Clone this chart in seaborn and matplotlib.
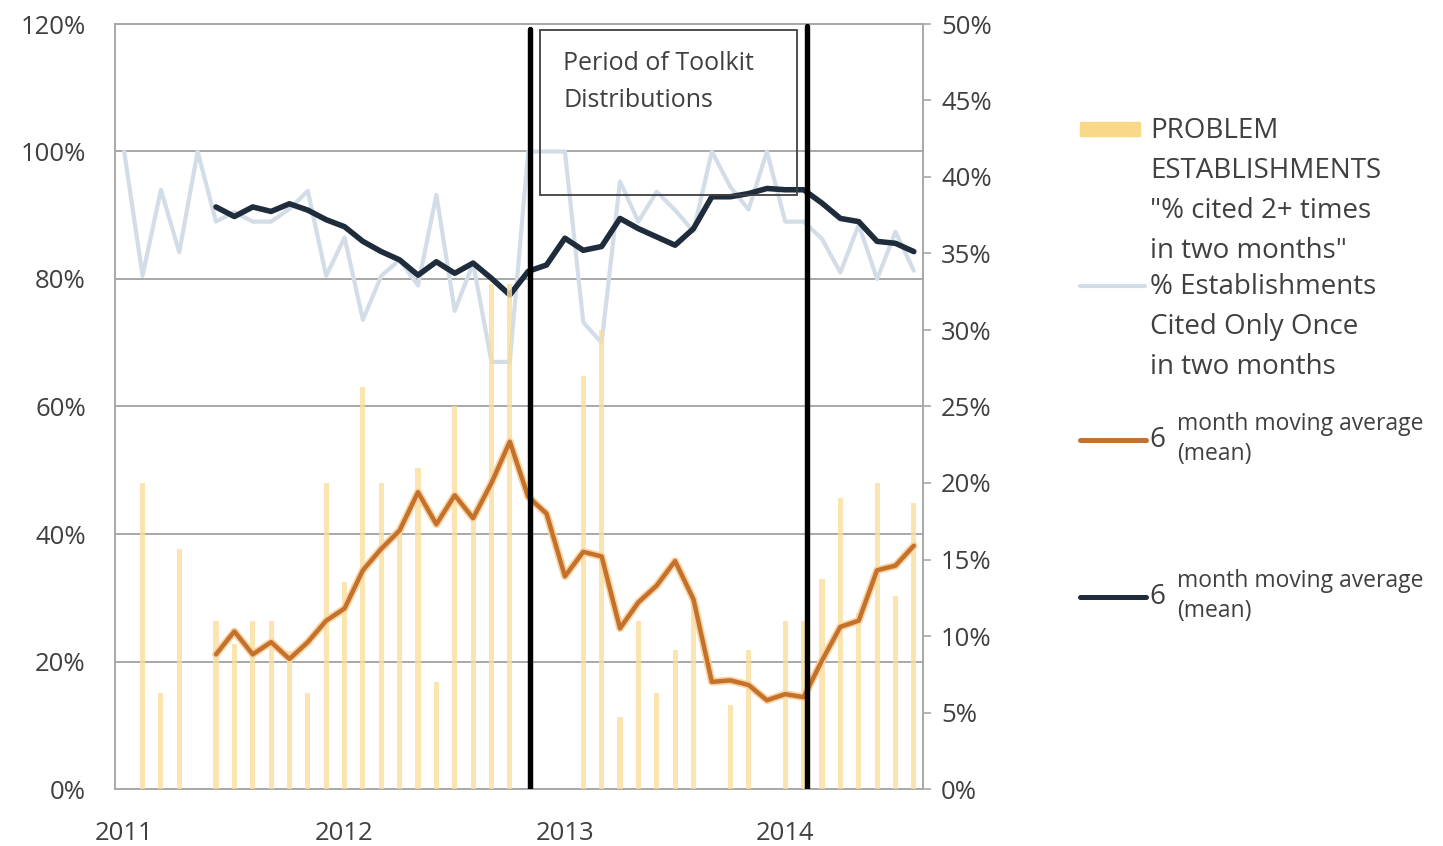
import matplotlib
matplotlib.use("Agg")
import numpy as np
import pandas as pd
import matplotlib.pyplot as plt
import seaborn as sns
from matplotlib.lines import Line2D
from matplotlib.patches import Rectangle
import matplotlib.patheffects as pe
import matplotlib.transforms as mtransforms

# ---------------- data ----------------
months = pd.period_range("2011-01", "2014-08", freq="M").strftime("%Y-%m").tolist()
year_labels = ["2011", "2012", "2013", "2014"]

# % of establishments cited 2+ times in two months (right axis, %)
problem_pct = [0, 20.0, 6.3, 15.7, 0, 11.0, 9.5, 11.0, 11.0, 9.0,
               6.3, 20.0, 13.5, 26.3, 20.0, 17.0, 21.0, 7.0, 25.0, 17.5,
               33.0, 33.0, 0, 0, 0, 27.0, 30.0, 4.7, 11.0, 6.3,
               9.1, 12.5, 0, 5.5, 9.1, 0, 11.0, 11.0, 13.7, 19.0,
               11.5, 20.0, 12.6, 18.7]

# % of establishments cited only once in two months (left axis, %)
once_pct = [100, 80.5, 94.0, 84.2, 100, 89.0, 90.5, 89.0, 89.0, 91.0,
            93.8, 80.5, 86.5, 73.6, 80.5, 83.0, 79.0, 93.2, 75.0, 82.5,
            67.0, 67.0, 100, 100, 100, 73.2, 70.0, 95.3, 89.0, 93.7,
            90.8, 87.5, 100, 94.5, 90.9, 100, 89.0, 89.0, 86.3, 81.0,
            88.5, 80.0, 87.4, 81.3]

# 6-month moving average of the problem series (right axis, %)
problem_ma = [None, None, None, None, None, 8.8, 10.3, 8.8, 9.6, 8.5,
              9.6, 11.0, 11.8, 14.3, 15.7, 16.9, 19.4, 17.3, 19.2, 17.7,
              20.0, 22.7, 19.1, 18.0, 13.9, 15.5, 15.2, 10.5, 12.2, 13.3,
              14.9, 12.4, 7.0, 7.1, 6.8, 5.8, 6.2, 6.0, 8.4, 10.6,
              11.0, 14.3, 14.6, 15.9]

# 6-month moving average of the cited-once series (left axis, %)
once_ma = [None, None, None, None, None, 91.3, 89.8, 91.3, 90.6, 91.8,
           90.8, 89.3, 88.2, 85.9, 84.3, 83.0, 80.6, 82.7, 80.9, 82.5,
           80.1, 77.5, 81.2, 82.2, 86.4, 84.5, 85.1, 89.5, 87.9, 86.6,
           85.3, 87.9, 92.9, 92.9, 93.4, 94.2, 94.0, 94.0, 91.9, 89.5,
           89.0, 85.9, 85.6, 84.3]

# Toolkit distribution period markers (month index)
toolkit_start = 22.1
toolkit_end = 37.2

left_ticks = [0, 20, 40, 60, 80, 100, 120]
right_ticks = [0, 5, 10, 15, 20, 25, 30, 35, 40, 45, 50]

# ---------------- styling ----------------
sns.set_style("white")
plt.rcParams["font.family"] = ["Open Sans", "DejaVu Sans"]

C_BAR = "#F9DE9C"
C_LEG_BAR = "#F8D98A"
C_ONCE = "#D3DDE8"
C_ORANGE = "#C4712C"
C_DARK = "#1F2C3B"
C_GRID = "#A8A8A8"
C_TEXT = "#404040"
FS = 18.5

df = pd.DataFrame({
    "m": np.arange(len(months)),
    "problem": problem_pct,
    "once": once_pct,
    "problem_ma": pd.to_numeric(pd.Series(problem_ma), errors="coerce"),
    "once_ma": pd.to_numeric(pd.Series(once_ma), errors="coerce"),
})

fig = plt.figure(figsize=(14.43, 8.46), dpi=100)
ax = fig.add_axes([115 / 1443, 1 - 789 / 846, (923 - 115) / 1443, (789 - 24) / 846])
ax2 = ax.twinx()
ax.set_zorder(1)
ax2.set_zorder(2)
ax.patch.set_visible(True)
ax.patch.set_facecolor("white")
ax2.patch.set_visible(False)

# bars (right axis)
sns.barplot(data=df, x="m", y="problem", ax=ax2, color=C_BAR, width=0.28,
            native_scale=True, saturation=1, alpha=0.8, linewidth=0)

# cited-once line and its MA (left axis)
sns.lineplot(data=df, x="m", y="once", ax=ax, color=C_ONCE, linewidth=3)
sns.lineplot(data=df.dropna(subset=["once_ma"]), x="m", y="once_ma", ax=ax,
             color=C_DARK, linewidth=4.0)

# problem MA (right axis)
sns.lineplot(data=df.dropna(subset=["problem_ma"]), x="m", y="problem_ma", ax=ax2,
             color=C_ORANGE, linewidth=3.2,
             path_effects=[pe.Stroke(linewidth=5.6, foreground="#FAD3A2"), pe.Normal()])

# axes limits / ticks
for a in (ax, ax2):
    a.set_xlim(-0.5, len(months) - 0.5)
    a.set_xlabel("")
    a.set_ylabel("")
ax.set_ylim(0, 120)
ax2.set_ylim(0, 50)

ax.set_yticks(left_ticks)
ax.set_yticklabels([f"{v}%" for v in left_ticks], fontsize=FS, color=C_TEXT)
ax.yaxis.grid(True, color=C_GRID, linewidth=1.4)
ax.tick_params(axis="y", length=0, pad=21)

ax2.set_yticks(right_ticks)
ax2.set_yticklabels([f"{v}%" for v in right_ticks], fontsize=FS, color=C_TEXT)
ax2.tick_params(axis="y", length=6, width=1.2, color=C_GRID, pad=7)
ax2.grid(False)

ax.set_xticks([0, 12, 24, 36])
ax.set_xticklabels(year_labels, fontsize=FS, color=C_TEXT)
ax.set_xticks(np.arange(-0.5, len(months), 1), minor=True)
ax.tick_params(axis="x", which="major", length=0, pad=23)
ax.tick_params(axis="x", which="minor", length=7, width=1.2, color=C_GRID, direction="out")
ax2.tick_params(axis="x", which="both", length=0, labelbottom=False)

for s in ["left", "bottom", "top", "right"]:
    ax.spines[s].set_color(C_GRID)
    ax.spines[s].set_linewidth(1.4)
for s in ["left", "bottom", "top"]:
    ax2.spines[s].set_visible(False)
ax2.spines["right"].set_color(C_GRID)
ax2.spines["right"].set_linewidth(1.4)
ax.spines["right"].set_visible(False)

# toolkit period lines and box
for xv, top in [(toolkit_start, 0.993), (toolkit_end, 0.997)]:
    ax2.axvline(xv, ymin=0, ymax=top, color="black", linewidth=3.9, zorder=10)

trans = mtransforms.blended_transform_factory(ax2.transData, ax2.transAxes)
ax2.add_patch(Rectangle((22.65, 0.776), 14.0, 0.216, transform=trans, fill=False,
                        edgecolor="#404040", linewidth=1.3, zorder=9))
ax2.text(23.9, 0.949, "Period of Toolkit", transform=trans, fontsize=FS - 0.5,
         color=C_TEXT, va="center", ha="left", zorder=11)
ax2.text(23.9, 0.900, "Distributions", transform=trans, fontsize=FS - 0.5,
         color=C_TEXT, va="center", ha="left", zorder=11)

# ---------------- legend (manual) ----------------
W, H = 1443, 846
def fx(px):
    return px / W
def fy(py):
    return 1 - py / H

LFS = 20
fig.add_artist(Rectangle((fx(1080), fy(136)), fx(60), 14 / H, color=C_LEG_BAR,
                         transform=fig.transFigure))
for i, line in enumerate(["PROBLEM", "ESTABLISHMENTS", "\"% cited 2+ times",
                          "in two months\""]):
    fig.text(fx(1150), fy(131 + 40 * i), line, fontsize=LFS, color=C_TEXT,
             va="center", ha="left")

fig.add_artist(Line2D([fx(1080), fx(1145)], [fy(286), fy(286)], color=C_ONCE,
                      linewidth=3, transform=fig.transFigure))
for i, line in enumerate(["% Establishments", "Cited Only Once", "in two months"]):
    fig.text(fx(1150), fy(287 + 40 * i), line, fontsize=LFS, color=C_TEXT,
             va="center", ha="left")

for yc, col in [(440, C_ORANGE), (597, C_DARK)]:
    fig.add_artist(Line2D([fx(1080), fx(1146)], [fy(yc), fy(yc)], color=col,
                          linewidth=3.6, transform=fig.transFigure))
    fig.text(fx(1149), fy(yc), "6", fontsize=LFS, color=C_TEXT, va="center", ha="left")
    fig.text(fx(1177), fy(yc - 16), "month moving average", fontsize=16.5,
             color=C_TEXT, va="center", ha="left")
    fig.text(fx(1177), fy(yc + 14), "(mean)", fontsize=16.5, color=C_TEXT,
             va="center", ha="left")

fig.savefig("out.png", dpi=100, facecolor="white")
